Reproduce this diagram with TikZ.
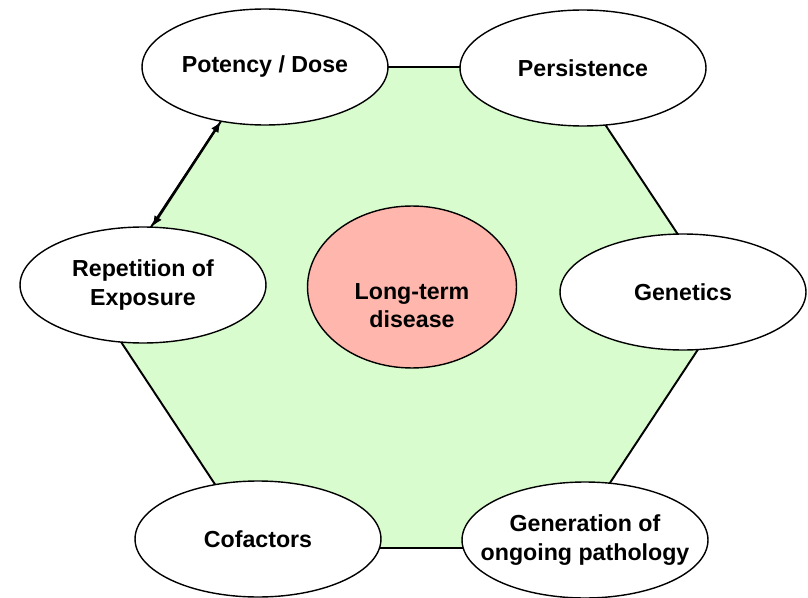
\documentclass[tikz,border=0pt]{standalone}
\usepackage{fontspec}
\setmainfont{Liberation Sans}
\usetikzlibrary{shapes.geometric,arrows.meta}
\definecolor{hexgreen}{RGB}{217,252,206}
\definecolor{diseasered}{RGB}{255,183,173}

\begin{document}
\begin{tikzpicture}[x=0.02cm,y=-0.02cm,
  factor/.style={ellipse,draw,line width=0.8pt,fill=white,inner sep=0pt,
    minimum width=4.92cm,minimum height=2.32cm,align=center,
    font=\bfseries\fontsize{13.2}{16}\selectfont},
  caption/.style={align=center,font=\bfseries\fontsize{13.2}{16}\selectfont}]

\useasboundingbox (0,0) rectangle (808,598);

% Hexagon
\draw[line width=1.1pt,fill=hexgreen]
(257,67) -- (567,67) -- (726,307) -- (567,548) -- (257,548) -- (98,307) -- cycle;

% Centre
\node[ellipse,draw,line width=0.8pt,fill=diseasered,
  minimum width=4.18cm,minimum height=3.24cm] (ltd) at (412,287) {};
\node[caption] (ltdtext) at (412,306) {Long-term\\disease};

% Factors
\node[factor] (pot) at (265,67) {Potency / Dose};
\node[factor] (per) at (583,68) {Persistence};
\node[factor] (gen) at (683,292) {Genetics};
\node[factor] (rep) at (143,285) {Repetition of\\Exposure};
\node[factor] (cof) at (258,539) {Cofactors};
\node[factor,inner xsep=-12pt] (pat) at (585,540) {Generation of\\ongoing pathology};

% Arrow
\draw[{Latex[length=6pt,width=5pt]}-{Latex[length=6pt,width=5pt]},line width=1.4pt]
(pot.231) -- (rep.81);

\end{tikzpicture}
\end{document}
